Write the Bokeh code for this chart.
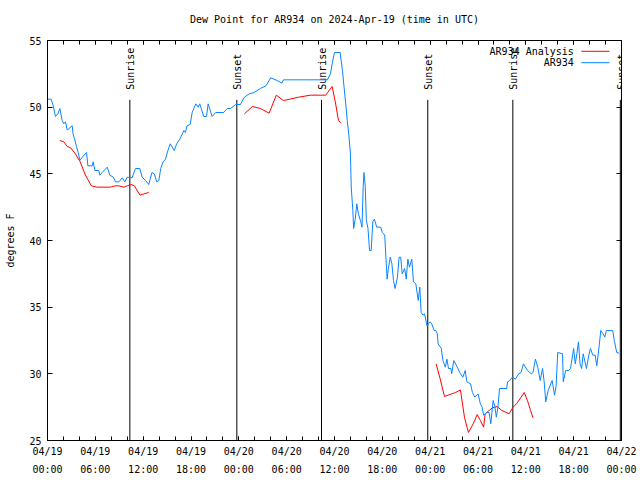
from datetime import datetime, timedelta
import math
from bokeh.plotting import figure
from bokeh.models import (FixedTicker, LinearAxis, DatetimeAxis, DatetimeTickFormatter,
                          CustomJSTickFormatter, Range1d, Label)
from bokeh.embed import file_html
from bokeh.resources import INLINE
from bokeh.core.properties import value

TITLE = "Dew Point for AR934 on 2024-Apr-19 (time in UTC)"
START = datetime(2024, 4, 19)

# Observations (hours since start, dew point F)
obs_hours = [0.0, 0.46, 0.72, 1.0, 1.3, 1.55, 1.84, 2.05, 2.26, 2.47, 2.8, 3.1, 3.2, 3.4, 3.64, 3.85,
             4.06, 4.35, 4.9, 5.06, 5.6, 5.73, 5.94, 6.44, 6.56, 6.85, 7.5, 7.82, 8.25, 8.54, 8.95,
             9.37, 9.7, 10.0, 10.6, 11.04, 11.58, 11.87, 12.3, 12.7, 13.1, 13.4, 13.7, 13.97, 14.2,
             14.5, 14.8, 15.1, 15.4, 15.9, 16.2, 16.6, 17.1, 17.3, 17.5, 17.9, 18.15, 18.6, 18.9,
             19.1, 19.6, 19.95, 20.15, 20.65, 21.1, 22.1, 22.55, 22.95, 23.6, 24.2, 24.7, 25.3,
             25.9, 26.7, 27.4, 28.0, 28.8, 29.4, 29.6, 35.1, 35.5, 35.7, 36.0, 36.7, 37.0, 37.2,
             37.4, 37.6, 37.8, 38.0, 38.1, 38.3, 38.4, 38.6, 38.8, 39.0, 39.3, 39.45, 39.6, 39.7,
             39.85, 40.0, 40.2, 40.4, 40.6, 40.8, 41.0, 41.3, 41.8, 42.0, 42.3, 42.45, 42.6, 42.75,
             43.0, 43.2, 43.4, 43.6, 43.9, 44.1, 44.3, 44.5, 44.8, 45.0, 45.2, 45.4, 45.7, 45.9,
             46.2, 46.5, 46.7, 46.87, 47.1, 47.3, 47.6, 48.0, 48.2, 48.5, 48.7, 48.9, 49.0, 49.4,
             49.6, 49.9, 50.1, 50.3, 50.6, 50.7, 50.96, 51.4, 51.8, 52.1, 52.4, 52.6, 53.07, 53.3,
             53.6, 54.0, 54.3, 54.5, 54.7, 55.1, 55.4, 55.6, 55.9, 56.1, 56.3, 56.5, 56.7, 57.6,
             57.7, 58.0, 58.3, 58.7, 59.1, 59.4, 59.7, 60.2, 60.7, 60.9, 61.2, 61.5, 61.8, 62.1,
             62.3, 62.5, 62.8, 63.3, 63.6, 63.8, 64.0, 64.6, 64.7, 65.0, 65.4, 65.6, 66.0, 66.2,
             66.4, 66.6, 66.8, 67.0, 67.2, 67.6, 67.9, 68.1, 68.4, 68.7, 68.9, 69.2, 69.4, 69.7,
             69.9, 70.1, 70.6, 70.9, 71.1, 71.4, 71.7]
obs_dewp = [50.6, 50.6, 50.1, 49.3, 49.5, 49.9, 49.0, 48.75, 48.9, 48.3, 48.45, 48.6, 48.0, 47.6,
            47.05, 46.6, 46.0, 46.25, 46.6, 45.6, 45.6, 45.9, 45.25, 45.25, 44.9, 45.1, 45.5, 44.9,
            44.75, 44.4, 44.4, 44.7, 44.4, 44.75, 44.7, 45.4, 45.4, 44.75, 44.5, 44.2, 45.1, 45.0,
            44.4, 44.5, 45.4, 45.9, 46.1, 46.75, 47.25, 46.75, 47.25, 47.6, 48.25, 48.1, 48.6,
            48.7, 49.6, 50.25, 50.0, 50.25, 49.3, 49.3, 50.25, 49.3, 49.6, 49.6, 49.9, 49.9, 50.2,
            50.2, 50.75, 51.0, 51.1, 51.4, 51.6, 52.2, 52.0, 51.8, 52.05, 52.05, 52.5, 53.25, 54.1,
            54.1, 52.75, 51.5, 50.3, 49.0, 47.9, 46.5, 44.0, 42.25, 40.9, 41.6, 42.75, 42.0, 41.4,
            41.0, 44.05, 45.1, 44.1, 41.5, 40.9, 39.25, 39.25, 41.4, 41.6, 41.0, 41.0, 40.6, 40.4,
            38.75, 37.1, 37.9, 38.75, 38.25, 37.0, 36.4, 37.25, 38.75, 38.75, 37.5, 37.9, 37.1,
            38.6, 38.0, 38.6, 36.9, 36.75, 35.5, 36.5, 34.6, 34.4, 34.5, 33.6, 33.9, 33.75, 33.25,
            33.25, 33.0, 32.25, 31.9, 31.0, 30.5, 31.1, 30.4, 30.4, 30.0, 31.0, 30.5, 30.0, 29.75,
            30.25, 29.4, 29.25, 28.6, 28.25, 28.5, 27.75, 27.55, 26.9, 27.1, 27.1, 26.25, 28.0,
            27.6, 26.75, 27.5, 28.9, 28.9, 29.4, 29.5, 29.75, 29.6, 30.0, 30.1, 30.75, 30.25, 30.0,
            30.1, 31.1, 30.5, 29.5, 30.4, 29.4, 27.9, 28.75, 29.5, 28.4, 29.1, 31.6, 31.5, 29.4,
            30.25, 30.25, 30.4, 31.9, 30.75, 31.5, 32.4, 30.75, 30.4, 31.5, 30.4, 31.4, 31.9, 31.4,
            31.4, 30.6, 32.1, 33.25, 33.0, 32.75, 33.25, 33.25, 33.25, 32.5, 31.6, 31.55]

# Analysis (three runs; NaN separates them)
NAN = float("nan")
ana_hours = [1.55, 2.05, 2.47, 2.9, 3.5, 4.1, 4.76, 5.5, 6.23, 7.9, 8.5, 8.9, 9.6, 10.0, 10.5, 10.9,
             11.6, 12.1, 12.7, 12.8,
             24.7, 25.7, 26.7, 27.8, 28.7, 29.6, 30.4, 31.5, 33.0, 34.9, 35.7, 36.1, 36.5, 36.8, 36.9,
             48.75, 49.2, 49.8, 50.7, 51.2, 51.8, 52.3, 52.8, 53.4, 53.9, 54.3, 54.7, 54.9, 55.3,
             55.8, 56.4, 57.0, 57.9, 58.4, 58.9, 59.8, 60.2, 60.6, 60.9]
ana_dewp = [47.5, 47.4, 47.05, 46.95, 46.5, 45.9, 44.9, 44.1, 44.0, 44.0, 44.1, 44.1, 44.0, 44.1,
            44.2, 44.1, 43.4, 43.5, 43.6, NAN,
            49.5, 50.05, 49.9, 49.55, 50.9, 50.5, 50.6, 50.75, 50.9, 50.9, 51.55, 50.4, 49.0, 48.8,
            NAN,
            30.75, 29.75, 28.3, 28.5, 28.6, 28.8, 26.75, 25.6, 26.25, 26.95, 26.5, 26.0, 27.0, 27.2,
            27.45, 27.55, 27.25, 27.0, 27.5, 27.8, 28.6, 28.0, 27.25, 26.7]

# Sun events
sun_hours = [10.33, 23.75, 34.37, 47.7, 58.37, 71.85]
sun_names = ["Sunrise", "Sunset", "Sunrise", "Sunset", "Sunrise", "Sunset"]

y_ticks = [25, 30, 35, 40, 45, 50, 55]
x_major_hours = list(range(0, 73, 6))
x_minor_hours = list(range(0, 73, 2))
series_names = ["AR934 Analysis", "AR934"]
series_colors = ["#ff0000", "#0a84ff"]

FONT = "DejaVu Sans Mono"
FS = "10px"


def t(h):
    return START + timedelta(hours=h)


def ms(h):
    return (t(h) - datetime(1970, 1, 1)).total_seconds() * 1000.0


FW, FH = 574, 400
x0, x1 = t(0), t(72)
p = figure(frame_width=FW, frame_height=FH, x_axis_type="datetime",
           x_range=Range1d(x0, x1), y_range=Range1d(25, 55),
           output_backend="svg", toolbar_location=None,
           min_border_left=47, min_border_right=19, min_border_top=40, min_border_bottom=40)
p.background_fill_color = "white"
p.border_fill_color = "white"
p.outline_line_color = "black"
p.outline_line_width = 1
p.xgrid.visible = False
p.ygrid.visible = False

xticker = FixedTicker(ticks=[ms(h) for h in x_major_hours], minor_ticks=[ms(h) for h in x_minor_hours])
yticker = FixedTicker(ticks=y_ticks, minor_ticks=[])

fmt = "%m/%d\n%H:%M"
xfmt = DatetimeTickFormatter(milliseconds=fmt, seconds=fmt, minsec=fmt, minutes=fmt,
                             hourmin=fmt, hours=fmt, days=fmt, months=fmt, years=fmt)
blank = CustomJSTickFormatter(code="return ''")


def style_axis(ax):
    ax.axis_line_color = "black"
    ax.major_tick_line_color = "black"
    ax.minor_tick_line_color = "black"
    ax.major_tick_in = 4
    ax.major_tick_out = 0
    ax.minor_tick_in = 4
    ax.minor_tick_out = 0
    ax.major_label_text_font = FONT
    ax.major_label_text_font_size = FS
    ax.major_label_text_color = "black"


xa = p.xaxis[0]
xa.ticker = xticker
xa.formatter = xfmt
style_axis(xa)
xa.major_label_standoff = 5
xa.major_label_text_line_height = 1.7

ya = p.yaxis[0]
ya.ticker = yticker
style_axis(ya)
ya.major_tick_in = 5
ya.major_label_standoff = 6
ya.axis_label = "degrees F"
ya.axis_label_text_font = FONT
ya.axis_label_text_font_size = FS
ya.axis_label_text_font_style = "normal"
ya.axis_label_text_color = "black"
ya.axis_label_standoff = 10

# Top axis: ticks only, its axis label carries the chart title
top = DatetimeAxis(ticker=xticker, formatter=blank)
style_axis(top)
top.major_label_standoff = 0
top.axis_label = TITLE
top.axis_label_text_font = FONT
top.axis_label_text_font_size = FS
top.axis_label_text_font_style = "normal"
top.axis_label_text_color = "black"
top.axis_label_standoff = 16
p.add_layout(top, "above")

right = LinearAxis(ticker=yticker, formatter=blank)
style_axis(right)
right.major_tick_in = 5
right.major_label_standoff = 0
p.add_layout(right, "right")

# Sunrise / sunset markers
sun_t = [t(h) for h in sun_hours]
p.segment(x0=sun_t, y0=[25] * len(sun_t), x1=sun_t, y1=[50.55] * len(sun_t),
          line_color="black", line_width=1)
p.text(x=sun_t, y=[51.3] * len(sun_t), text=sun_names, angle=math.pi / 2,
       text_align="left", text_baseline="middle", text_font=value(FONT),
       text_font_size=FS, text_color="black", x_offset=1)

# Series
p.line([t(h) for h in ana_hours], ana_dewp, line_color=series_colors[0], line_width=1)
p.line([t(h) for h in obs_hours], obs_dewp, line_color=series_colors[1], line_width=1)

# Manual legend (label left of line sample), placed by fractions of the frame
xr = (x1 - x0)


def xf(f):
    return x0 + xr * f


def yf(f):
    return 25 + 30 * f


for i, (name, col) in enumerate(zip(series_names, series_colors)):
    yy = yf(0.973 - 0.0285 * i)
    p.add_layout(Label(x=xf(0.917), y=yy, text=name, text_align="right", text_baseline="middle",
                       text_font=FONT, text_font_size=FS, text_color="black"))
    p.segment(x0=[xf(0.93)], y0=[yy], x1=[xf(0.979)], y1=[yy], line_color=col, line_width=1)

open("out.html", "w").write(file_html(p, INLINE))
